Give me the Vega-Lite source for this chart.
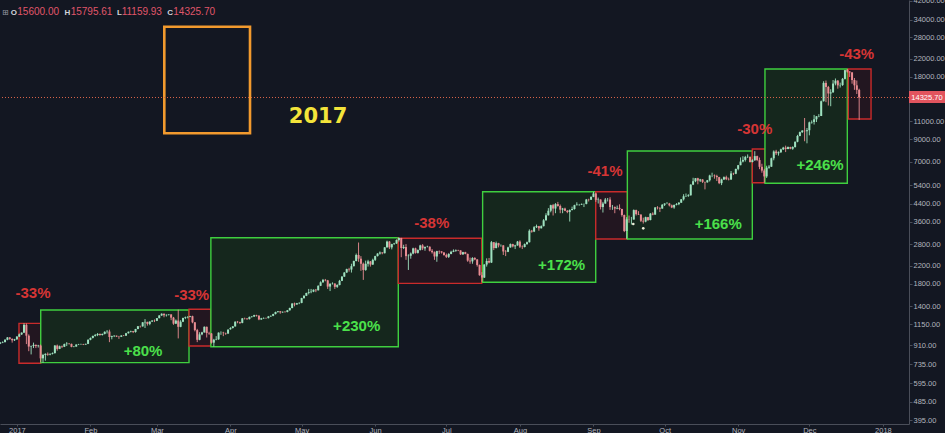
{
"$schema":"https://vega.github.io/schema/vega-lite/v6.json",
"width":909,"height":424,
"autosize":{"type":"none"},
"padding":{"left":0,"top":0,"right":36,"bottom":9},
"background":"#131722",
"config":{"view":{"stroke":null},"font":"Liberation Sans",
 "axis":{"grid":false,"domain":true,"domainColor":"#4a4e59","tickColor":"#4a4e59","labelColor":"#b2b5be","labelFontSize":7.5,"labelFont":"Liberation Sans","labelFlush":false,"labelOverlap":false},
 "axisX":{"tickSize":2,"labelPadding":0},
 "axisY":{"tickSize":3,"labelPadding":1,"labelBaseline":"middle"}},
"datasets":{
"candles":[
{"d":"2016-12-25","o":925,"h":942,"l":920,"c":935},
{"d":"2016-12-26","o":935,"h":948,"l":930,"c":940},
{"d":"2016-12-27","o":940,"h":972,"l":938,"c":965},
{"d":"2016-12-28","o":965,"h":995,"l":960,"c":990},
{"d":"2016-12-29","o":990,"h":995,"l":965,"c":975},
{"d":"2016-12-30","o":975,"h":980,"l":935,"c":960},
{"d":"2016-12-31","o":960,"h":975,"l":952,"c":970},
{"d":"2017-01-01","o":970,"h":1005,"l":965,"c":1000},
{"d":"2017-01-02","o":1000,"h":1035,"l":995,"c":1025},
{"d":"2017-01-03","o":1025,"h":1048,"l":1018,"c":1045},
{"d":"2017-01-04","o":1045,"h":1160,"l":1040,"c":1140},
{"d":"2017-01-05","o":1140,"h":1158,"l":920,"c":1010},
{"d":"2017-01-06","o":1010,"h":1025,"l":850,"c":895},
{"d":"2017-01-07","o":895,"h":905,"l":820,"c":900},
{"d":"2017-01-08","o":900,"h":935,"l":880,"c":912},
{"d":"2017-01-09","o":912,"h":915,"l":880,"c":900},
{"d":"2017-01-10","o":900,"h":912,"l":885,"c":905},
{"d":"2017-01-11","o":905,"h":915,"l":750,"c":785},
{"d":"2017-01-12","o":785,"h":825,"l":748,"c":815},
{"d":"2017-01-13","o":815,"h":830,"l":765,"c":825},
{"d":"2017-01-14","o":825,"h":838,"l":808,"c":818},
{"d":"2017-01-15","o":818,"h":830,"l":812,"c":825},
{"d":"2017-01-16","o":825,"h":838,"l":820,"c":832},
{"d":"2017-01-17","o":832,"h":910,"l":828,"c":905},
{"d":"2017-01-18","o":905,"h":915,"l":855,"c":872},
{"d":"2017-01-19","o":872,"h":905,"l":870,"c":898},
{"d":"2017-01-20","o":898,"h":905,"l":880,"c":893},
{"d":"2017-01-21","o":893,"h":925,"l":890,"c":920},
{"d":"2017-01-22","o":920,"h":940,"l":900,"c":925},
{"d":"2017-01-23","o":925,"h":930,"l":915,"c":922},
{"d":"2017-01-24","o":922,"h":925,"l":888,"c":892},
{"d":"2017-01-25","o":892,"h":900,"l":888,"c":895},
{"d":"2017-01-26","o":895,"h":918,"l":893,"c":915},
{"d":"2017-01-27","o":915,"h":922,"l":910,"c":918},
{"d":"2017-01-28","o":918,"h":924,"l":914,"c":920},
{"d":"2017-01-29","o":920,"h":922,"l":910,"c":915},
{"d":"2017-01-30","o":915,"h":925,"l":913,"c":922},
{"d":"2017-01-31","o":922,"h":970,"l":920,"c":965},
{"d":"2017-02-01","o":965,"h":990,"l":960,"c":985},
{"d":"2017-02-02","o":985,"h":1010,"l":980,"c":1008},
{"d":"2017-02-03","o":1008,"h":1030,"l":1000,"c":1018},
{"d":"2017-02-04","o":1018,"h":1040,"l":1005,"c":1030},
{"d":"2017-02-05","o":1030,"h":1035,"l":1010,"c":1018},
{"d":"2017-02-06","o":1018,"h":1035,"l":1012,"c":1030},
{"d":"2017-02-07","o":1030,"h":1060,"l":1025,"c":1055},
{"d":"2017-02-08","o":1055,"h":1075,"l":1035,"c":1058},
{"d":"2017-02-09","o":1058,"h":1080,"l":940,"c":995},
{"d":"2017-02-10","o":995,"h":1010,"l":970,"c":1005},
{"d":"2017-02-11","o":1005,"h":1015,"l":995,"c":1010},
{"d":"2017-02-12","o":1010,"h":1012,"l":995,"c":1000},
{"d":"2017-02-13","o":1000,"h":1008,"l":975,"c":998},
{"d":"2017-02-14","o":998,"h":1015,"l":995,"c":1012},
{"d":"2017-02-15","o":1012,"h":1018,"l":1005,"c":1010},
{"d":"2017-02-16","o":1010,"h":1042,"l":1008,"c":1038},
{"d":"2017-02-17","o":1038,"h":1058,"l":1035,"c":1055},
{"d":"2017-02-18","o":1055,"h":1068,"l":1048,"c":1062},
{"d":"2017-02-19","o":1062,"h":1065,"l":1040,"c":1052},
{"d":"2017-02-20","o":1052,"h":1090,"l":1045,"c":1088},
{"d":"2017-02-21","o":1088,"h":1125,"l":1085,"c":1122},
{"d":"2017-02-22","o":1122,"h":1130,"l":1105,"c":1120},
{"d":"2017-02-23","o":1120,"h":1175,"l":1118,"c":1172},
{"d":"2017-02-24","o":1172,"h":1215,"l":1100,"c":1178},
{"d":"2017-02-25","o":1178,"h":1180,"l":1130,"c":1152},
{"d":"2017-02-26","o":1152,"h":1185,"l":1135,"c":1182},
{"d":"2017-02-27","o":1182,"h":1200,"l":1178,"c":1195},
{"d":"2017-02-28","o":1195,"h":1210,"l":1175,"c":1192},
{"d":"2017-03-01","o":1192,"h":1230,"l":1188,"c":1228},
{"d":"2017-03-02","o":1228,"h":1270,"l":1225,"c":1265},
{"d":"2017-03-03","o":1265,"h":1295,"l":1260,"c":1290},
{"d":"2017-03-04","o":1290,"h":1292,"l":1240,"c":1268},
{"d":"2017-03-05","o":1268,"h":1280,"l":1250,"c":1275},
{"d":"2017-03-06","o":1275,"h":1285,"l":1265,"c":1280},
{"d":"2017-03-07","o":1280,"h":1282,"l":1200,"c":1235},
{"d":"2017-03-08","o":1235,"h":1245,"l":1140,"c":1155},
{"d":"2017-03-09","o":1155,"h":1210,"l":1150,"c":1195},
{"d":"2017-03-10","o":1195,"h":1350,"l":980,"c":1115},
{"d":"2017-03-11","o":1115,"h":1200,"l":1110,"c":1180},
{"d":"2017-03-12","o":1180,"h":1235,"l":1175,"c":1230},
{"d":"2017-03-13","o":1230,"h":1250,"l":1215,"c":1240},
{"d":"2017-03-14","o":1240,"h":1255,"l":1225,"c":1245},
{"d":"2017-03-15","o":1245,"h":1260,"l":1240,"c":1255},
{"d":"2017-03-16","o":1255,"h":1262,"l":1160,"c":1172},
{"d":"2017-03-17","o":1172,"h":1175,"l":1060,"c":1075},
{"d":"2017-03-18","o":1075,"h":1090,"l":940,"c":965},
{"d":"2017-03-19","o":965,"h":1050,"l":960,"c":1025},
{"d":"2017-03-20","o":1025,"h":1055,"l":1015,"c":1048},
{"d":"2017-03-21","o":1048,"h":1120,"l":1045,"c":1115},
{"d":"2017-03-22","o":1115,"h":1118,"l":990,"c":1040},
{"d":"2017-03-23","o":1040,"h":1055,"l":1020,"c":1035},
{"d":"2017-03-24","o":1035,"h":1040,"l":925,"c":935},
{"d":"2017-03-25","o":935,"h":975,"l":895,"c":965},
{"d":"2017-03-26","o":965,"h":1005,"l":960,"c":970},
{"d":"2017-03-27","o":970,"h":1048,"l":965,"c":1045},
{"d":"2017-03-28","o":1045,"h":1060,"l":1020,"c":1045},
{"d":"2017-03-29","o":1045,"h":1055,"l":1005,"c":1040},
{"d":"2017-03-30","o":1040,"h":1045,"l":1020,"c":1035},
{"d":"2017-03-31","o":1035,"h":1085,"l":1030,"c":1080},
{"d":"2017-04-01","o":1085,"h":1110,"l":1080,"c":1100},
{"d":"2017-04-02","o":1100,"h":1125,"l":1095,"c":1120},
{"d":"2017-04-03","o":1120,"h":1185,"l":1118,"c":1180},
{"d":"2017-04-04","o":1180,"h":1190,"l":1160,"c":1175},
{"d":"2017-04-05","o":1175,"h":1180,"l":1150,"c":1165},
{"d":"2017-04-06","o":1165,"h":1230,"l":1160,"c":1225},
{"d":"2017-04-07","o":1225,"h":1235,"l":1210,"c":1222},
{"d":"2017-04-08","o":1222,"h":1230,"l":1205,"c":1215},
{"d":"2017-04-09","o":1215,"h":1250,"l":1210,"c":1245},
{"d":"2017-04-10","o":1245,"h":1258,"l":1235,"c":1250},
{"d":"2017-04-11","o":1250,"h":1275,"l":1245,"c":1270},
{"d":"2017-04-12","o":1270,"h":1275,"l":1250,"c":1262},
{"d":"2017-04-13","o":1262,"h":1268,"l":1200,"c":1210},
{"d":"2017-04-14","o":1210,"h":1232,"l":1205,"c":1225},
{"d":"2017-04-15","o":1225,"h":1238,"l":1218,"c":1230},
{"d":"2017-04-16","o":1230,"h":1236,"l":1220,"c":1228},
{"d":"2017-04-17","o":1228,"h":1258,"l":1225,"c":1252},
{"d":"2017-04-18","o":1252,"h":1265,"l":1245,"c":1260},
{"d":"2017-04-19","o":1260,"h":1290,"l":1255,"c":1285},
{"d":"2017-04-20","o":1285,"h":1320,"l":1280,"c":1315},
{"d":"2017-04-21","o":1315,"h":1330,"l":1305,"c":1325},
{"d":"2017-04-22","o":1325,"h":1330,"l":1290,"c":1310},
{"d":"2017-04-23","o":1310,"h":1322,"l":1302,"c":1318},
{"d":"2017-04-24","o":1318,"h":1325,"l":1305,"c":1315},
{"d":"2017-04-25","o":1315,"h":1345,"l":1310,"c":1340},
{"d":"2017-04-26","o":1340,"h":1380,"l":1336,"c":1375},
{"d":"2017-04-27","o":1375,"h":1450,"l":1370,"c":1445},
{"d":"2017-04-28","o":1445,"h":1460,"l":1400,"c":1430},
{"d":"2017-04-29","o":1430,"h":1455,"l":1425,"c":1450},
{"d":"2017-04-30","o":1450,"h":1465,"l":1435,"c":1455},
{"d":"2017-05-01","o":1455,"h":1540,"l":1450,"c":1535},
{"d":"2017-05-02","o":1535,"h":1585,"l":1525,"c":1575},
{"d":"2017-05-03","o":1575,"h":1630,"l":1570,"c":1625},
{"d":"2017-05-04","o":1625,"h":1700,"l":1600,"c":1640},
{"d":"2017-05-05","o":1640,"h":1700,"l":1620,"c":1650},
{"d":"2017-05-06","o":1650,"h":1690,"l":1640,"c":1685},
{"d":"2017-05-07","o":1685,"h":1700,"l":1640,"c":1675},
{"d":"2017-05-08","o":1675,"h":1770,"l":1670,"c":1760},
{"d":"2017-05-09","o":1760,"h":1850,"l":1755,"c":1830},
{"d":"2017-05-10","o":1830,"h":1900,"l":1820,"c":1880},
{"d":"2017-05-11","o":1880,"h":1900,"l":1850,"c":1870},
{"d":"2017-05-12","o":1870,"h":1880,"l":1700,"c":1745},
{"d":"2017-05-13","o":1745,"h":1810,"l":1660,"c":1800},
{"d":"2017-05-14","o":1800,"h":1830,"l":1785,"c":1805},
{"d":"2017-05-15","o":1805,"h":1810,"l":1700,"c":1740},
{"d":"2017-05-16","o":1740,"h":1790,"l":1720,"c":1775},
{"d":"2017-05-17","o":1775,"h":1880,"l":1770,"c":1860},
{"d":"2017-05-18","o":1860,"h":1960,"l":1855,"c":1950},
{"d":"2017-05-19","o":1950,"h":2050,"l":1945,"c":2040},
{"d":"2017-05-20","o":2040,"h":2130,"l":2035,"c":2120},
{"d":"2017-05-21","o":2120,"h":2150,"l":2060,"c":2110},
{"d":"2017-05-22","o":2110,"h":2250,"l":2040,"c":2190},
{"d":"2017-05-23","o":2190,"h":2330,"l":2185,"c":2320},
{"d":"2017-05-24","o":2320,"h":2520,"l":2310,"c":2480},
{"d":"2017-05-25","o":2480,"h":2850,"l":2300,"c":2380},
{"d":"2017-05-26","o":2380,"h":2450,"l":2080,"c":2250},
{"d":"2017-05-27","o":2250,"h":2280,"l":1880,"c":2100},
{"d":"2017-05-28","o":2100,"h":2330,"l":2080,"c":2250},
{"d":"2017-05-29","o":2250,"h":2350,"l":2180,"c":2310},
{"d":"2017-05-30","o":2310,"h":2320,"l":2180,"c":2230},
{"d":"2017-05-31","o":2230,"h":2380,"l":2220,"c":2350},
{"d":"2017-06-01","o":2350,"h":2460,"l":2320,"c":2450},
{"d":"2017-06-02","o":2450,"h":2530,"l":2440,"c":2520},
{"d":"2017-06-03","o":2520,"h":2580,"l":2490,"c":2550},
{"d":"2017-06-04","o":2550,"h":2560,"l":2500,"c":2530},
{"d":"2017-06-05","o":2530,"h":2710,"l":2525,"c":2700},
{"d":"2017-06-06","o":2700,"h":2910,"l":2695,"c":2880},
{"d":"2017-06-07","o":2880,"h":2900,"l":2650,"c":2700},
{"d":"2017-06-08","o":2700,"h":2810,"l":2640,"c":2800},
{"d":"2017-06-09","o":2800,"h":2840,"l":2780,"c":2820},
{"d":"2017-06-10","o":2820,"h":2950,"l":2810,"c":2930},
{"d":"2017-06-11","o":2930,"h":3010,"l":2880,"c":3000},
{"d":"2017-06-12","o":3000,"h":3000,"l":2420,"c":2680},
{"d":"2017-06-13","o":2680,"h":2780,"l":2650,"c":2710},
{"d":"2017-06-14","o":2710,"h":2800,"l":2350,"c":2450},
{"d":"2017-06-15","o":2450,"h":2500,"l":2100,"c":2460},
{"d":"2017-06-16","o":2460,"h":2550,"l":2380,"c":2520},
{"d":"2017-06-17","o":2520,"h":2690,"l":2500,"c":2670},
{"d":"2017-06-18","o":2670,"h":2690,"l":2520,"c":2540},
{"d":"2017-06-19","o":2540,"h":2640,"l":2520,"c":2620},
{"d":"2017-06-20","o":2620,"h":2780,"l":2610,"c":2760},
{"d":"2017-06-21","o":2760,"h":2800,"l":2620,"c":2670},
{"d":"2017-06-22","o":2670,"h":2730,"l":2600,"c":2710},
{"d":"2017-06-23","o":2710,"h":2750,"l":2700,"c":2720},
{"d":"2017-06-24","o":2720,"h":2730,"l":2580,"c":2600},
{"d":"2017-06-25","o":2600,"h":2650,"l":2520,"c":2560},
{"d":"2017-06-26","o":2560,"h":2580,"l":2350,"c":2440},
{"d":"2017-06-27","o":2440,"h":2600,"l":2300,"c":2590},
{"d":"2017-06-28","o":2590,"h":2610,"l":2510,"c":2580},
{"d":"2017-06-29","o":2580,"h":2590,"l":2520,"c":2550},
{"d":"2017-06-30","o":2550,"h":2560,"l":2460,"c":2480},
{"d":"2017-07-01","o":2480,"h":2520,"l":2400,"c":2430},
{"d":"2017-07-02","o":2430,"h":2530,"l":2400,"c":2510},
{"d":"2017-07-03","o":2510,"h":2600,"l":2500,"c":2570},
{"d":"2017-07-04","o":2570,"h":2640,"l":2560,"c":2600},
{"d":"2017-07-05","o":2600,"h":2640,"l":2570,"c":2620},
{"d":"2017-07-06","o":2620,"h":2630,"l":2590,"c":2610},
{"d":"2017-07-07","o":2610,"h":2615,"l":2480,"c":2500},
{"d":"2017-07-08","o":2500,"h":2570,"l":2480,"c":2560},
{"d":"2017-07-09","o":2560,"h":2570,"l":2500,"c":2510},
{"d":"2017-07-10","o":2510,"h":2520,"l":2300,"c":2330},
{"d":"2017-07-11","o":2330,"h":2410,"l":2250,"c":2310},
{"d":"2017-07-12","o":2310,"h":2420,"l":2250,"c":2400},
{"d":"2017-07-13","o":2400,"h":2420,"l":2340,"c":2360},
{"d":"2017-07-14","o":2360,"h":2370,"l":2180,"c":2220},
{"d":"2017-07-15","o":2220,"h":2230,"l":1970,"c":1980},
{"d":"2017-07-16","o":1980,"h":2050,"l":1840,"c":1930},
{"d":"2017-07-17","o":1930,"h":2240,"l":1920,"c":2230},
{"d":"2017-07-18","o":2230,"h":2390,"l":2180,"c":2320},
{"d":"2017-07-19","o":2320,"h":2400,"l":2260,"c":2280},
{"d":"2017-07-20","o":2280,"h":2900,"l":2270,"c":2860},
{"d":"2017-07-21","o":2860,"h":2860,"l":2620,"c":2680},
{"d":"2017-07-22","o":2680,"h":2880,"l":2670,"c":2830},
{"d":"2017-07-23","o":2830,"h":2840,"l":2700,"c":2760},
{"d":"2017-07-24","o":2760,"h":2790,"l":2720,"c":2760},
{"d":"2017-07-25","o":2760,"h":2770,"l":2480,"c":2580},
{"d":"2017-07-26","o":2580,"h":2620,"l":2450,"c":2570},
{"d":"2017-07-27","o":2570,"h":2720,"l":2560,"c":2700},
{"d":"2017-07-28","o":2700,"h":2820,"l":2690,"c":2800},
{"d":"2017-07-29","o":2800,"h":2810,"l":2700,"c":2730},
{"d":"2017-07-30","o":2730,"h":2780,"l":2650,"c":2760},
{"d":"2017-07-31","o":2760,"h":2900,"l":2750,"c":2880},
{"d":"2017-08-01","o":2880,"h":2920,"l":2680,"c":2720},
{"d":"2017-08-02","o":2720,"h":2760,"l":2650,"c":2710},
{"d":"2017-08-03","o":2710,"h":2820,"l":2700,"c":2800},
{"d":"2017-08-04","o":2800,"h":2880,"l":2780,"c":2860},
{"d":"2017-08-05","o":2860,"h":3300,"l":2850,"c":3250},
{"d":"2017-08-06","o":3250,"h":3280,"l":3180,"c":3220},
{"d":"2017-08-07","o":3220,"h":3420,"l":3200,"c":3380},
{"d":"2017-08-08","o":3380,"h":3480,"l":3350,"c":3420},
{"d":"2017-08-09","o":3420,"h":3430,"l":3250,"c":3340},
{"d":"2017-08-10","o":3340,"h":3450,"l":3330,"c":3420},
{"d":"2017-08-11","o":3420,"h":3700,"l":3410,"c":3650},
{"d":"2017-08-12","o":3650,"h":3950,"l":3640,"c":3860},
{"d":"2017-08-13","o":3860,"h":4180,"l":3850,"c":4060},
{"d":"2017-08-14","o":4060,"h":4340,"l":3990,"c":4320},
{"d":"2017-08-15","o":4320,"h":4380,"l":3850,"c":4160},
{"d":"2017-08-16","o":4160,"h":4420,"l":3950,"c":4370},
{"d":"2017-08-17","o":4370,"h":4480,"l":4250,"c":4280},
{"d":"2017-08-18","o":4280,"h":4350,"l":3950,"c":4110},
{"d":"2017-08-19","o":4110,"h":4190,"l":3950,"c":4160},
{"d":"2017-08-20","o":4160,"h":4200,"l":4040,"c":4060},
{"d":"2017-08-21","o":4060,"h":4090,"l":3950,"c":4000},
{"d":"2017-08-22","o":4000,"h":4120,"l":3600,"c":4090},
{"d":"2017-08-23","o":4090,"h":4250,"l":4080,"c":4140},
{"d":"2017-08-24","o":4140,"h":4340,"l":4110,"c":4320},
{"d":"2017-08-25","o":4320,"h":4460,"l":4310,"c":4350},
{"d":"2017-08-26","o":4350,"h":4380,"l":4290,"c":4350},
{"d":"2017-08-27","o":4350,"h":4400,"l":4330,"c":4380},
{"d":"2017-08-28","o":4380,"h":4400,"l":4230,"c":4380},
{"d":"2017-08-29","o":4380,"h":4630,"l":4360,"c":4600},
{"d":"2017-08-30","o":4600,"h":4640,"l":4500,"c":4590},
{"d":"2017-08-31","o":4590,"h":4760,"l":4580,"c":4740},
{"d":"2017-09-01","o":4740,"h":5010,"l":4720,"c":4920},
{"d":"2017-09-02","o":4920,"h":4960,"l":4480,"c":4580},
{"d":"2017-09-03","o":4580,"h":4700,"l":4400,"c":4600},
{"d":"2017-09-04","o":4600,"h":4610,"l":4120,"c":4230},
{"d":"2017-09-05","o":4230,"h":4480,"l":3980,"c":4400},
{"d":"2017-09-06","o":4400,"h":4680,"l":4390,"c":4600},
{"d":"2017-09-07","o":4600,"h":4680,"l":4500,"c":4600},
{"d":"2017-09-08","o":4600,"h":4720,"l":4100,"c":4230},
{"d":"2017-09-09","o":4230,"h":4330,"l":4100,"c":4230},
{"d":"2017-09-10","o":4230,"h":4260,"l":3950,"c":4160},
{"d":"2017-09-11","o":4160,"h":4300,"l":4130,"c":4190},
{"d":"2017-09-12","o":4190,"h":4360,"l":4080,"c":4140},
{"d":"2017-09-13","o":4140,"h":4150,"l":3800,"c":3870},
{"d":"2017-09-14","o":3870,"h":3890,"l":3200,"c":3240},
{"d":"2017-09-15","o":3240,"h":3780,"l":2970,"c":3690},
{"d":"2017-09-16","o":3690,"h":3850,"l":3550,"c":3680},
{"d":"2017-09-17","o":3680,"h":3790,"l":3480,"c":3680},
{"d":"2017-09-18","o":3680,"h":4120,"l":3680,"c":4090},
{"d":"2017-09-19","o":4090,"h":4110,"l":3850,"c":3910},
{"d":"2017-09-20","o":3910,"h":4040,"l":3870,"c":3890},
{"d":"2017-09-21","o":3890,"h":3900,"l":3580,"c":3630},
{"d":"2017-09-22","o":3630,"h":3760,"l":3520,"c":3600},
{"d":"2017-09-23","o":3600,"h":3800,"l":3570,"c":3780},
{"d":"2017-09-24","o":3780,"h":3790,"l":3620,"c":3660},
{"d":"2017-09-25","o":3660,"h":3960,"l":3650,"c":3930},
{"d":"2017-09-26","o":3930,"h":3990,"l":3860,"c":3890},
{"d":"2017-09-27","o":3890,"h":4230,"l":3880,"c":4210},
{"d":"2017-09-28","o":4210,"h":4270,"l":4120,"c":4190},
{"d":"2017-09-29","o":4190,"h":4220,"l":4000,"c":4160},
{"d":"2017-09-30","o":4160,"h":4370,"l":4150,"c":4340},
{"d":"2017-10-01","o":4340,"h":4410,"l":4280,"c":4400},
{"d":"2017-10-02","o":4400,"h":4470,"l":4370,"c":4400},
{"d":"2017-10-03","o":4400,"h":4430,"l":4260,"c":4310},
{"d":"2017-10-04","o":4310,"h":4350,"l":4180,"c":4210},
{"d":"2017-10-05","o":4210,"h":4350,"l":4150,"c":4330},
{"d":"2017-10-06","o":4330,"h":4420,"l":4310,"c":4370},
{"d":"2017-10-07","o":4370,"h":4470,"l":4320,"c":4440},
{"d":"2017-10-08","o":4440,"h":4620,"l":4430,"c":4610},
{"d":"2017-10-09","o":4610,"h":4880,"l":4550,"c":4770},
{"d":"2017-10-10","o":4770,"h":4920,"l":4730,"c":4780},
{"d":"2017-10-11","o":4780,"h":4880,"l":4740,"c":4820},
{"d":"2017-10-12","o":4820,"h":5450,"l":4810,"c":5430},
{"d":"2017-10-13","o":5430,"h":5860,"l":5400,"c":5640},
{"d":"2017-10-14","o":5640,"h":5840,"l":5580,"c":5830},
{"d":"2017-10-15","o":5830,"h":5860,"l":5450,"c":5680},
{"d":"2017-10-16","o":5680,"h":5790,"l":5590,"c":5750},
{"d":"2017-10-17","o":5750,"h":5770,"l":5530,"c":5600},
{"d":"2017-10-18","o":5600,"h":5600,"l":5150,"c":5570},
{"d":"2017-10-19","o":5570,"h":5720,"l":5550,"c":5700},
{"d":"2017-10-20","o":5700,"h":6060,"l":5620,"c":6010},
{"d":"2017-10-21","o":6010,"h":6200,"l":5900,"c":6010},
{"d":"2017-10-22","o":6010,"h":6080,"l":5800,"c":5980},
{"d":"2017-10-23","o":5980,"h":6060,"l":5650,"c":5900},
{"d":"2017-10-24","o":5900,"h":5920,"l":5460,"c":5520},
{"d":"2017-10-25","o":5520,"h":5800,"l":5400,"c":5750},
{"d":"2017-10-26","o":5750,"h":5950,"l":5720,"c":5900},
{"d":"2017-10-27","o":5900,"h":6000,"l":5710,"c":5770},
{"d":"2017-10-28","o":5770,"h":5870,"l":5690,"c":5750},
{"d":"2017-10-29","o":5750,"h":6320,"l":5720,"c":6150},
{"d":"2017-10-30","o":6150,"h":6200,"l":6040,"c":6130},
{"d":"2017-10-31","o":6130,"h":6480,"l":6100,"c":6470},
{"d":"2017-11-01","o":6470,"h":6760,"l":6370,"c":6740},
{"d":"2017-11-02","o":6740,"h":7350,"l":6740,"c":7020},
{"d":"2017-11-03","o":7020,"h":7450,"l":6950,"c":7150},
{"d":"2017-11-04","o":7150,"h":7480,"l":7020,"c":7380},
{"d":"2017-11-05","o":7380,"h":7600,"l":7300,"c":7400},
{"d":"2017-11-06","o":7400,"h":7420,"l":6950,"c":6980},
{"d":"2017-11-07","o":6980,"h":7200,"l":6960,"c":7120},
{"d":"2017-11-08","o":7120,"h":7880,"l":7080,"c":7460},
{"d":"2017-11-09","o":7460,"h":7500,"l":7050,"c":7140},
{"d":"2017-11-10","o":7140,"h":7340,"l":6450,"c":6620},
{"d":"2017-11-11","o":6620,"h":6850,"l":6200,"c":6350},
{"d":"2017-11-12","o":6350,"h":6470,"l":5550,"c":5950},
{"d":"2017-11-13","o":5950,"h":6700,"l":5850,"c":6560},
{"d":"2017-11-14","o":6560,"h":6750,"l":6480,"c":6630},
{"d":"2017-11-15","o":6630,"h":7330,"l":6620,"c":7280},
{"d":"2017-11-16","o":7280,"h":7950,"l":7120,"c":7850},
{"d":"2017-11-17","o":7850,"h":8000,"l":7550,"c":7700},
{"d":"2017-11-18","o":7700,"h":7860,"l":7500,"c":7790},
{"d":"2017-11-19","o":7790,"h":8100,"l":7720,"c":8040},
{"d":"2017-11-20","o":8040,"h":8270,"l":7980,"c":8200},
{"d":"2017-11-21","o":8200,"h":8380,"l":7800,"c":8070},
{"d":"2017-11-22","o":8070,"h":8300,"l":8060,"c":8250},
{"d":"2017-11-23","o":8250,"h":8280,"l":8050,"c":8100},
{"d":"2017-11-24","o":8100,"h":8320,"l":8000,"c":8250},
{"d":"2017-11-25","o":8250,"h":8780,"l":8200,"c":8750},
{"d":"2017-11-26","o":8750,"h":9450,"l":8700,"c":9330},
{"d":"2017-11-27","o":9330,"h":9800,"l":9300,"c":9740},
{"d":"2017-11-28","o":9740,"h":9970,"l":9650,"c":9900},
{"d":"2017-11-29","o":9900,"h":11400,"l":8800,"c":9840},
{"d":"2017-11-30","o":9840,"h":10200,"l":8600,"c":9950},
{"d":"2017-12-01","o":9950,"h":10950,"l":9400,"c":10860},
{"d":"2017-12-02","o":10860,"h":11100,"l":10700,"c":10910},
{"d":"2017-12-03","o":10910,"h":11800,"l":10600,"c":11240},
{"d":"2017-12-04","o":11240,"h":11650,"l":10900,"c":11620},
{"d":"2017-12-05","o":11620,"h":11900,"l":11500,"c":11660},
{"d":"2017-12-06","o":11660,"h":13850,"l":11650,"c":13740},
{"d":"2017-12-07","o":13740,"h":17170,"l":13700,"c":16850},
{"d":"2017-12-08","o":16850,"h":17300,"l":13600,"c":16110},
{"d":"2017-12-09","o":16110,"h":16300,"l":13100,"c":14980},
{"d":"2017-12-10","o":14980,"h":15700,"l":13000,"c":15170},
{"d":"2017-12-11","o":15170,"h":17400,"l":15100,"c":16730},
{"d":"2017-12-12","o":16730,"h":17700,"l":16400,"c":17280},
{"d":"2017-12-13","o":17280,"h":17400,"l":15800,"c":16400},
{"d":"2017-12-14","o":16400,"h":16900,"l":16000,"c":16450},
{"d":"2017-12-15","o":16450,"h":17800,"l":16300,"c":17620},
{"d":"2017-12-16","o":17620,"h":19450,"l":17500,"c":19410},
{"d":"2017-12-17","o":19410,"h":19670,"l":18900,"c":19120},
{"d":"2017-12-18","o":19120,"h":19200,"l":18000,"c":18940},
{"d":"2017-12-19","o":18940,"h":19000,"l":16700,"c":17400},
{"d":"2017-12-20","o":17400,"h":17800,"l":15600,"c":16400},
{"d":"2017-12-21","o":16400,"h":17300,"l":14900,"c":15600},
{"d":"2017-12-22","o":15600,"h":15795.61,"l":11159.93,"c":14325.7}
],
"boxes":[
{"kind":"loss","s":"2017-01-01T21:00:00Z","e":"2017-01-11T01:00:00Z","lo":743,"hi":1159},
{"kind":"gain","s":"2017-01-11T01:00:00Z","e":"2017-03-14T13:00:00Z","lo":748,"hi":1344},
{"kind":"loss","s":"2017-03-14T13:00:00Z","e":"2017-03-23T16:00:00Z","lo":900,"hi":1355},
{"kind":"gain","s":"2017-03-23T18:00:00Z","e":"2017-06-10T18:00:00Z","lo":893,"hi":3007},
{"kind":"loss","s":"2017-06-10T18:00:00Z","e":"2017-07-15T22:00:00Z","lo":1809,"hi":2987},
{"kind":"gain","s":"2017-07-16T07:00:00Z","e":"2017-09-01T23:00:00Z","lo":1830,"hi":5019},
{"kind":"loss","s":"2017-09-01T23:00:00Z","e":"2017-09-15T07:00:00Z","lo":2963,"hi":5019},
{"kind":"gain","s":"2017-09-15T07:00:00Z","e":"2017-11-06T23:00:00Z","lo":2963,"hi":7898},
{"kind":"loss","s":"2017-11-06T23:00:00Z","e":"2017-11-12T07:00:00Z","lo":5548,"hi":8072},
{"kind":"gain","s":"2017-11-12T07:00:00Z","e":"2017-12-17T00:00:00Z","lo":5511,"hi":19673},
{"kind":"loss","s":"2017-12-17T10:00:00Z","e":"2017-12-27T00:00:00Z","lo":11275,"hi":19673}
],
"labels":[
{"t":"-33%","kind":"loss","d":"2017-01-07T19:00:00Z","p":1537},
{"t":"+80%","kind":"gain","d":"2017-02-23T04:00:00Z","p":803},
{"t":"-33%","kind":"loss","d":"2017-03-15T16:00:00Z","p":1497},
{"t":"+230%","kind":"gain","d":"2017-05-24T05:00:00Z","p":1060},
{"t":"-38%","kind":"loss","d":"2017-06-24T20:00:00Z","p":3350},
{"t":"+172%","kind":"gain","d":"2017-08-18T14:00:00Z","p":2092},
{"t":"-41%","kind":"loss","d":"2017-09-05T21:00:00Z","p":5977},
{"t":"+166%","kind":"gain","d":"2017-10-23T14:00:00Z","p":3328},
{"t":"-30%","kind":"loss","d":"2017-11-08T00:00:00Z","p":9583},
{"t":"+246%","kind":"gain","d":"2017-12-05T12:00:00Z","p":6368},
{"t":"-43%","kind":"loss","d":"2017-12-20T23:00:00Z","p":22090}
],
"headkeys":[
{"t":"O","d":"2016-12-29T10:00:00Z","p":35778},
{"t":"H","d":"2017-01-21T02:00:00Z","p":35778},
{"t":"L","d":"2017-02-12T04:30:00Z","p":35778},
{"t":"C","d":"2017-03-05T08:20:00Z","p":35778}
],
"headvals":[
{"t":"15600.00","d":"2017-01-01T04:00:00Z","p":35778},
{"t":"15795.61","d":"2017-01-23T16:00:00Z","p":35778},
{"t":"11159.93","d":"2017-02-14T04:00:00Z","p":35778},
{"t":"14325.70","d":"2017-03-07T22:00:00Z","p":35778}
]
},
"layer":[
{"data":{"name":"boxes"},
 "mark":{"type":"rect","strokeWidth":1.4},
 "encoding":{
  "x":{"field":"s","type":"temporal","title":null,"scale":{"type":"utc","domain":[{"year":2016,"month":12,"date":24,"hours":21,"utc":true},{"year":2018,"month":1,"date":12,"utc":true}]},
   "axis":{"orient":"bottom","values":[{"year":2017,"month":1,"date":1,"utc":true},{"year":2017,"month":2,"date":1,"utc":true},{"year":2017,"month":3,"date":1,"utc":true},{"year":2017,"month":4,"date":1,"utc":true},{"year":2017,"month":5,"date":1,"utc":true},{"year":2017,"month":6,"date":1,"utc":true},{"year":2017,"month":7,"date":1,"utc":true},{"year":2017,"month":8,"date":1,"utc":true},{"year":2017,"month":9,"date":1,"utc":true},{"year":2017,"month":10,"date":1,"utc":true},{"year":2017,"month":11,"date":1,"utc":true},{"year":2017,"month":12,"date":1,"utc":true},{"year":2018,"month":1,"date":1,"utc":true}],
    "labelExpr":"utcFormat(datum.value, '%m') == '01' ? utcFormat(datum.value, '%Y') : utcFormat(datum.value, '%b')"}},
  "x2":{"field":"e"},
  "y":{"field":"lo","type":"quantitative","title":null,"scale":{"type":"log","domain":[377.9,42412],"nice":false},
   "axis":{"orient":"right","values":[395,485,595,735,910,1150,1400,1800,2200,2800,3600,4400,5400,7000,9000,11000,18000,22000,28000,34000,42000],"format":".2f"}},
  "y2":{"field":"hi"},
  "fill":{"field":"kind","type":"nominal","scale":{"domain":["gain","loss"],"range":["#15271d","#221620"]},"legend":null},
  "stroke":{"field":"kind","type":"nominal","scale":{"domain":["gain","loss"],"range":["#3fcf3f","#c92b2b"]},"legend":null}
 }},
{"data":{"values":[{"s":"2017-03-04T03:00:00Z","e":"2017-04-09T06:00:00Z","lo":9615,"hi":31510}]},
 "mark":{"type":"rect","fillOpacity":0,"stroke":"#f29a2e","strokeWidth":2.6},
 "encoding":{
  "x":{"field":"s","type":"temporal","title":null,"scale":{"type":"utc","domain":[{"year":2016,"month":12,"date":24,"hours":21,"utc":true},{"year":2018,"month":1,"date":12,"utc":true}]},
   "axis":{"orient":"bottom","values":[{"year":2017,"month":1,"date":1,"utc":true},{"year":2017,"month":2,"date":1,"utc":true},{"year":2017,"month":3,"date":1,"utc":true},{"year":2017,"month":4,"date":1,"utc":true},{"year":2017,"month":5,"date":1,"utc":true},{"year":2017,"month":6,"date":1,"utc":true},{"year":2017,"month":7,"date":1,"utc":true},{"year":2017,"month":8,"date":1,"utc":true},{"year":2017,"month":9,"date":1,"utc":true},{"year":2017,"month":10,"date":1,"utc":true},{"year":2017,"month":11,"date":1,"utc":true},{"year":2017,"month":12,"date":1,"utc":true},{"year":2018,"month":1,"date":1,"utc":true}],
    "labelExpr":"utcFormat(datum.value, '%m') == '01' ? utcFormat(datum.value, '%Y') : utcFormat(datum.value, '%b')"}},
  "x2":{"field":"e"},
  "y":{"field":"lo","type":"quantitative","title":null,"scale":{"type":"log","domain":[377.9,42412],"nice":false},
   "axis":{"orient":"right","values":[395,485,595,735,910,1150,1400,1800,2200,2800,3600,4400,5400,7000,9000,11000,18000,22000,28000,34000,42000],"format":".2f"}},
  "y2":{"field":"hi"}
 }},
{"data":{"values":[{"p":14325.7}]},
 "mark":{"type":"rule","color":"#d9654a","strokeWidth":1,"strokeDash":[1,2]},
 "encoding":{
  "y":{"field":"p","type":"quantitative","title":null,"scale":{"type":"log","domain":[377.9,42412],"nice":false},
   "axis":{"orient":"right","values":[395,485,595,735,910,1150,1400,1800,2200,2800,3600,4400,5400,7000,9000,11000,18000,22000,28000,34000,42000],"format":".2f"}}
 }},
{"data":{"name":"candles"},
 "mark":{"type":"rule","strokeWidth":0.9,"clip":true},
 "encoding":{
  "x":{"field":"d","type":"temporal","title":null,"scale":{"type":"utc","domain":[{"year":2016,"month":12,"date":24,"hours":21,"utc":true},{"year":2018,"month":1,"date":12,"utc":true}]},
   "axis":{"orient":"bottom","values":[{"year":2017,"month":1,"date":1,"utc":true},{"year":2017,"month":2,"date":1,"utc":true},{"year":2017,"month":3,"date":1,"utc":true},{"year":2017,"month":4,"date":1,"utc":true},{"year":2017,"month":5,"date":1,"utc":true},{"year":2017,"month":6,"date":1,"utc":true},{"year":2017,"month":7,"date":1,"utc":true},{"year":2017,"month":8,"date":1,"utc":true},{"year":2017,"month":9,"date":1,"utc":true},{"year":2017,"month":10,"date":1,"utc":true},{"year":2017,"month":11,"date":1,"utc":true},{"year":2017,"month":12,"date":1,"utc":true},{"year":2018,"month":1,"date":1,"utc":true}],
    "labelExpr":"utcFormat(datum.value, '%m') == '01' ? utcFormat(datum.value, '%Y') : utcFormat(datum.value, '%b')"}},
  "y":{"field":"l","type":"quantitative","title":null,"scale":{"type":"log","domain":[377.9,42412],"nice":false},
   "axis":{"orient":"right","values":[395,485,595,735,910,1150,1400,1800,2200,2800,3600,4400,5400,7000,9000,11000,18000,22000,28000,34000,42000],"format":".2f"}},
  "y2":{"field":"h"},
  "color":{"condition":{"test":"datum.c >= datum.o","value":"#9fe2c0"},"value":"#ea8c93"}
 }},
{"data":{"name":"candles"},
 "mark":{"type":"rule","strokeWidth":2,"strokeCap":"butt","clip":true},
 "encoding":{
  "x":{"field":"d","type":"temporal","title":null,"scale":{"type":"utc","domain":[{"year":2016,"month":12,"date":24,"hours":21,"utc":true},{"year":2018,"month":1,"date":12,"utc":true}]},
   "axis":{"orient":"bottom","values":[{"year":2017,"month":1,"date":1,"utc":true},{"year":2017,"month":2,"date":1,"utc":true},{"year":2017,"month":3,"date":1,"utc":true},{"year":2017,"month":4,"date":1,"utc":true},{"year":2017,"month":5,"date":1,"utc":true},{"year":2017,"month":6,"date":1,"utc":true},{"year":2017,"month":7,"date":1,"utc":true},{"year":2017,"month":8,"date":1,"utc":true},{"year":2017,"month":9,"date":1,"utc":true},{"year":2017,"month":10,"date":1,"utc":true},{"year":2017,"month":11,"date":1,"utc":true},{"year":2017,"month":12,"date":1,"utc":true},{"year":2018,"month":1,"date":1,"utc":true}],
    "labelExpr":"utcFormat(datum.value, '%m') == '01' ? utcFormat(datum.value, '%Y') : utcFormat(datum.value, '%b')"}},
  "y":{"field":"o","type":"quantitative","title":null,"scale":{"type":"log","domain":[377.9,42412],"nice":false},
   "axis":{"orient":"right","values":[395,485,595,735,910,1150,1400,1800,2200,2800,3600,4400,5400,7000,9000,11000,18000,22000,28000,34000,42000],"format":".2f"}},
  "y2":{"field":"c"},
  "color":{"condition":{"test":"datum.c >= datum.o","value":"#9fe2c0"},"value":"#ea8c93"}
 }},
{"data":{"values":[{"d":"2017-09-17T19:00:00Z","p":3503},{"d":"2017-09-22T00:00:00Z","p":3338}]},
 "mark":{"type":"point","filled":true,"size":7,"color":"#f0f0dc","opacity":1},
 "encoding":{
  "x":{"field":"d","type":"temporal","title":null,"scale":{"type":"utc","domain":[{"year":2016,"month":12,"date":24,"hours":21,"utc":true},{"year":2018,"month":1,"date":12,"utc":true}]},
   "axis":{"orient":"bottom","values":[{"year":2017,"month":1,"date":1,"utc":true},{"year":2017,"month":2,"date":1,"utc":true},{"year":2017,"month":3,"date":1,"utc":true},{"year":2017,"month":4,"date":1,"utc":true},{"year":2017,"month":5,"date":1,"utc":true},{"year":2017,"month":6,"date":1,"utc":true},{"year":2017,"month":7,"date":1,"utc":true},{"year":2017,"month":8,"date":1,"utc":true},{"year":2017,"month":9,"date":1,"utc":true},{"year":2017,"month":10,"date":1,"utc":true},{"year":2017,"month":11,"date":1,"utc":true},{"year":2017,"month":12,"date":1,"utc":true},{"year":2018,"month":1,"date":1,"utc":true}],
    "labelExpr":"utcFormat(datum.value, '%m') == '01' ? utcFormat(datum.value, '%Y') : utcFormat(datum.value, '%b')"}},
  "y":{"field":"p","type":"quantitative","title":null,"scale":{"type":"log","domain":[377.9,42412],"nice":false},
   "axis":{"orient":"right","values":[395,485,595,735,910,1150,1400,1800,2200,2800,3600,4400,5400,7000,9000,11000,18000,22000,28000,34000,42000],"format":".2f"}}
 }},
{"data":{"name":"labels"},
 "mark":{"type":"text","fontSize":15,"fontWeight":"bold","font":"Liberation Sans","align":"center","baseline":"alphabetic"},
 "encoding":{
  "x":{"field":"d","type":"temporal","title":null,"scale":{"type":"utc","domain":[{"year":2016,"month":12,"date":24,"hours":21,"utc":true},{"year":2018,"month":1,"date":12,"utc":true}]},
   "axis":{"orient":"bottom","values":[{"year":2017,"month":1,"date":1,"utc":true},{"year":2017,"month":2,"date":1,"utc":true},{"year":2017,"month":3,"date":1,"utc":true},{"year":2017,"month":4,"date":1,"utc":true},{"year":2017,"month":5,"date":1,"utc":true},{"year":2017,"month":6,"date":1,"utc":true},{"year":2017,"month":7,"date":1,"utc":true},{"year":2017,"month":8,"date":1,"utc":true},{"year":2017,"month":9,"date":1,"utc":true},{"year":2017,"month":10,"date":1,"utc":true},{"year":2017,"month":11,"date":1,"utc":true},{"year":2017,"month":12,"date":1,"utc":true},{"year":2018,"month":1,"date":1,"utc":true}],
    "labelExpr":"utcFormat(datum.value, '%m') == '01' ? utcFormat(datum.value, '%Y') : utcFormat(datum.value, '%b')"}},
  "y":{"field":"p","type":"quantitative","title":null,"scale":{"type":"log","domain":[377.9,42412],"nice":false},
   "axis":{"orient":"right","values":[395,485,595,735,910,1150,1400,1800,2200,2800,3600,4400,5400,7000,9000,11000,18000,22000,28000,34000,42000],"format":".2f"}},
  "text":{"field":"t"},
  "color":{"field":"kind","type":"nominal","scale":{"domain":["gain","loss"],"range":["#4be04b","#d63535"]},"legend":null}
 }},
{"data":{"values":[{"t":"2017","d":"2017-05-07T22:00:00Z","p":10747}]},
 "mark":{"type":"text","fontSize":21,"fontWeight":"bold","font":"DejaVu Sans","align":"center","baseline":"alphabetic","color":"#f3e43a"},
 "encoding":{
  "x":{"field":"d","type":"temporal","title":null,"scale":{"type":"utc","domain":[{"year":2016,"month":12,"date":24,"hours":21,"utc":true},{"year":2018,"month":1,"date":12,"utc":true}]},
   "axis":{"orient":"bottom","values":[{"year":2017,"month":1,"date":1,"utc":true},{"year":2017,"month":2,"date":1,"utc":true},{"year":2017,"month":3,"date":1,"utc":true},{"year":2017,"month":4,"date":1,"utc":true},{"year":2017,"month":5,"date":1,"utc":true},{"year":2017,"month":6,"date":1,"utc":true},{"year":2017,"month":7,"date":1,"utc":true},{"year":2017,"month":8,"date":1,"utc":true},{"year":2017,"month":9,"date":1,"utc":true},{"year":2017,"month":10,"date":1,"utc":true},{"year":2017,"month":11,"date":1,"utc":true},{"year":2017,"month":12,"date":1,"utc":true},{"year":2018,"month":1,"date":1,"utc":true}],
    "labelExpr":"utcFormat(datum.value, '%m') == '01' ? utcFormat(datum.value, '%Y') : utcFormat(datum.value, '%b')"}},
  "y":{"field":"p","type":"quantitative","title":null,"scale":{"type":"log","domain":[377.9,42412],"nice":false},
   "axis":{"orient":"right","values":[395,485,595,735,910,1150,1400,1800,2200,2800,3600,4400,5400,7000,9000,11000,18000,22000,28000,34000,42000],"format":".2f"}},
  "text":{"field":"t"}
 }},
{"data":{"name":"headkeys"},
 "mark":{"type":"text","fontSize":8,"fontWeight":"bold","font":"Liberation Sans","align":"left","baseline":"alphabetic","color":"#d1d4dc"},
 "encoding":{
  "x":{"field":"d","type":"temporal","title":null,"scale":{"type":"utc","domain":[{"year":2016,"month":12,"date":24,"hours":21,"utc":true},{"year":2018,"month":1,"date":12,"utc":true}]},
   "axis":{"orient":"bottom","values":[{"year":2017,"month":1,"date":1,"utc":true},{"year":2017,"month":2,"date":1,"utc":true},{"year":2017,"month":3,"date":1,"utc":true},{"year":2017,"month":4,"date":1,"utc":true},{"year":2017,"month":5,"date":1,"utc":true},{"year":2017,"month":6,"date":1,"utc":true},{"year":2017,"month":7,"date":1,"utc":true},{"year":2017,"month":8,"date":1,"utc":true},{"year":2017,"month":9,"date":1,"utc":true},{"year":2017,"month":10,"date":1,"utc":true},{"year":2017,"month":11,"date":1,"utc":true},{"year":2017,"month":12,"date":1,"utc":true},{"year":2018,"month":1,"date":1,"utc":true}],
    "labelExpr":"utcFormat(datum.value, '%m') == '01' ? utcFormat(datum.value, '%Y') : utcFormat(datum.value, '%b')"}},
  "y":{"field":"p","type":"quantitative","title":null,"scale":{"type":"log","domain":[377.9,42412],"nice":false},
   "axis":{"orient":"right","values":[395,485,595,735,910,1150,1400,1800,2200,2800,3600,4400,5400,7000,9000,11000,18000,22000,28000,34000,42000],"format":".2f"}},
  "text":{"field":"t"}
 }},
{"data":{"name":"headvals"},
 "mark":{"type":"text","fontSize":10,"font":"Liberation Sans","align":"left","baseline":"alphabetic","color":"#e0566a"},
 "encoding":{
  "x":{"field":"d","type":"temporal","title":null,"scale":{"type":"utc","domain":[{"year":2016,"month":12,"date":24,"hours":21,"utc":true},{"year":2018,"month":1,"date":12,"utc":true}]},
   "axis":{"orient":"bottom","values":[{"year":2017,"month":1,"date":1,"utc":true},{"year":2017,"month":2,"date":1,"utc":true},{"year":2017,"month":3,"date":1,"utc":true},{"year":2017,"month":4,"date":1,"utc":true},{"year":2017,"month":5,"date":1,"utc":true},{"year":2017,"month":6,"date":1,"utc":true},{"year":2017,"month":7,"date":1,"utc":true},{"year":2017,"month":8,"date":1,"utc":true},{"year":2017,"month":9,"date":1,"utc":true},{"year":2017,"month":10,"date":1,"utc":true},{"year":2017,"month":11,"date":1,"utc":true},{"year":2017,"month":12,"date":1,"utc":true},{"year":2018,"month":1,"date":1,"utc":true}],
    "labelExpr":"utcFormat(datum.value, '%m') == '01' ? utcFormat(datum.value, '%Y') : utcFormat(datum.value, '%b')"}},
  "y":{"field":"p","type":"quantitative","title":null,"scale":{"type":"log","domain":[377.9,42412],"nice":false},
   "axis":{"orient":"right","values":[395,485,595,735,910,1150,1400,1800,2200,2800,3600,4400,5400,7000,9000,11000,18000,22000,28000,34000,42000],"format":".2f"}},
  "text":{"field":"t"}
 }},
{"data":{"values":[{"t":"⊞","d":"2016-12-25T18:00:00Z","p":35778}]},
 "mark":{"type":"text","fontSize":8,"font":"DejaVu Sans","align":"left","baseline":"alphabetic","color":"#9598a1"},
 "encoding":{
  "x":{"field":"d","type":"temporal","title":null,"scale":{"type":"utc","domain":[{"year":2016,"month":12,"date":24,"hours":21,"utc":true},{"year":2018,"month":1,"date":12,"utc":true}]},
   "axis":{"orient":"bottom","values":[{"year":2017,"month":1,"date":1,"utc":true},{"year":2017,"month":2,"date":1,"utc":true},{"year":2017,"month":3,"date":1,"utc":true},{"year":2017,"month":4,"date":1,"utc":true},{"year":2017,"month":5,"date":1,"utc":true},{"year":2017,"month":6,"date":1,"utc":true},{"year":2017,"month":7,"date":1,"utc":true},{"year":2017,"month":8,"date":1,"utc":true},{"year":2017,"month":9,"date":1,"utc":true},{"year":2017,"month":10,"date":1,"utc":true},{"year":2017,"month":11,"date":1,"utc":true},{"year":2017,"month":12,"date":1,"utc":true},{"year":2018,"month":1,"date":1,"utc":true}],
    "labelExpr":"utcFormat(datum.value, '%m') == '01' ? utcFormat(datum.value, '%Y') : utcFormat(datum.value, '%b')"}},
  "y":{"field":"p","type":"quantitative","title":null,"scale":{"type":"log","domain":[377.9,42412],"nice":false},
   "axis":{"orient":"right","values":[395,485,595,735,910,1150,1400,1800,2200,2800,3600,4400,5400,7000,9000,11000,18000,22000,28000,34000,42000],"format":".2f"}},
  "text":{"field":"t"}
 }},
{"data":{"values":[{"s":"2018-01-12T00:00:00Z","e":"2018-01-27T05:00:00Z","lo":13473,"hi":15395}]},
 "mark":{"type":"rect","color":"#e2545e","clip":false},
 "encoding":{
  "x":{"field":"s","type":"temporal","title":null,"scale":{"type":"utc","domain":[{"year":2016,"month":12,"date":24,"hours":21,"utc":true},{"year":2018,"month":1,"date":12,"utc":true}]},
   "axis":{"orient":"bottom","values":[{"year":2017,"month":1,"date":1,"utc":true},{"year":2017,"month":2,"date":1,"utc":true},{"year":2017,"month":3,"date":1,"utc":true},{"year":2017,"month":4,"date":1,"utc":true},{"year":2017,"month":5,"date":1,"utc":true},{"year":2017,"month":6,"date":1,"utc":true},{"year":2017,"month":7,"date":1,"utc":true},{"year":2017,"month":8,"date":1,"utc":true},{"year":2017,"month":9,"date":1,"utc":true},{"year":2017,"month":10,"date":1,"utc":true},{"year":2017,"month":11,"date":1,"utc":true},{"year":2017,"month":12,"date":1,"utc":true},{"year":2018,"month":1,"date":1,"utc":true}],
    "labelExpr":"utcFormat(datum.value, '%m') == '01' ? utcFormat(datum.value, '%Y') : utcFormat(datum.value, '%b')"}},
  "x2":{"field":"e"},
  "y":{"field":"lo","type":"quantitative","title":null,"scale":{"type":"log","domain":[377.9,42412],"nice":false},
   "axis":{"orient":"right","values":[395,485,595,735,910,1150,1400,1800,2200,2800,3600,4400,5400,7000,9000,11000,18000,22000,28000,34000,42000],"format":".2f"}},
  "y2":{"field":"hi"}
 }},
{"data":{"values":[{"t":"14325.70","d":"2018-01-19T14:00:00Z","p":13980}]},
 "mark":{"type":"text","fontSize":7.5,"font":"Liberation Sans","align":"center","baseline":"alphabetic","color":"#ffffff","clip":false},
 "encoding":{
  "x":{"field":"d","type":"temporal","title":null,"scale":{"type":"utc","domain":[{"year":2016,"month":12,"date":24,"hours":21,"utc":true},{"year":2018,"month":1,"date":12,"utc":true}]},
   "axis":{"orient":"bottom","values":[{"year":2017,"month":1,"date":1,"utc":true},{"year":2017,"month":2,"date":1,"utc":true},{"year":2017,"month":3,"date":1,"utc":true},{"year":2017,"month":4,"date":1,"utc":true},{"year":2017,"month":5,"date":1,"utc":true},{"year":2017,"month":6,"date":1,"utc":true},{"year":2017,"month":7,"date":1,"utc":true},{"year":2017,"month":8,"date":1,"utc":true},{"year":2017,"month":9,"date":1,"utc":true},{"year":2017,"month":10,"date":1,"utc":true},{"year":2017,"month":11,"date":1,"utc":true},{"year":2017,"month":12,"date":1,"utc":true},{"year":2018,"month":1,"date":1,"utc":true}],
    "labelExpr":"utcFormat(datum.value, '%m') == '01' ? utcFormat(datum.value, '%Y') : utcFormat(datum.value, '%b')"}},
  "y":{"field":"p","type":"quantitative","title":null,"scale":{"type":"log","domain":[377.9,42412],"nice":false},
   "axis":{"orient":"right","values":[395,485,595,735,910,1150,1400,1800,2200,2800,3600,4400,5400,7000,9000,11000,18000,22000,28000,34000,42000],"format":".2f"}},
  "text":{"field":"t"}
 }}
]
}
